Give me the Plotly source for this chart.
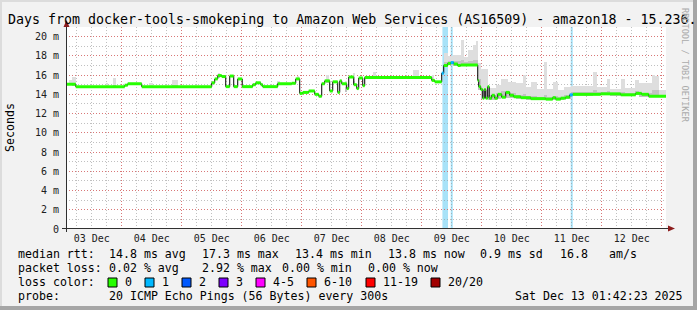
import plotly.graph_objects as go
import pandas as pd

# ---------------- data (times = hours since 2025-12-03 00:00) ----------------
T0 = pd.Timestamp("2025-12-03 00:00:00")
RANGE_H = [1.7064, 241.7064]          # Dec 3 01:42:23 -> Dec 13 01:42:23

# median RTT step breakpoints
med_h = [1.7, 5.6, 25.2, 26.4, 32.0, 60.0, 61.2, 62.4, 64.0, 65.6, 67.2, 68.8, 70.4,
         72.2, 76.4, 77.6, 79.6, 80.4, 86.4, 92.0, 93.6, 95.2, 96.4, 98.8, 101.2,
         102.8, 104.0, 105.2, 107.2, 108.4, 110.4, 111.2, 112.0, 114.0, 114.8, 116.8,
         118.0, 118.8, 120.4, 121.2, 148.0, 149.2, 152.0, 152.8, 154.4, 155.6, 156.8,
         158.4, 159.6, 166.4, 166.8, 167.6, 168.4, 169.0, 169.6, 170.4, 171.0, 172.0,
         173.2, 174.4, 176.0, 177.6, 179.2, 180.8, 183.6, 187.6, 193.6, 196.4, 197.6,
         199.6, 201.6, 203.2, 204.4, 215.6, 223.6, 229.6, 232.0, 234.8]
med_ms = [15.05, 14.8, 14.95, 15.1, 14.8, 15.2, 15.6, 15.95, 15.85, 14.8, 15.9, 14.8, 15.6,
          14.8, 15.0, 15.2, 15.0, 14.8, 15.1, 15.15, 15.6, 14.1, 14.2, 14.35, 14.0,
          13.8, 15.1, 15.4, 14.35, 15.3, 14.2, 15.4, 15.1, 14.6, 15.8, 15.0,
          14.6, 15.7, 14.9, 15.75, 15.45, 15.3, 16.2, 17.0, 17.2, 17.3, 17.15,
          17.0, 17.05, 15.45, 14.8, 14.5, 13.6, 14.5, 13.6, 14.8, 13.6, 13.9,
          13.6, 14.0, 13.7, 14.2, 13.9, 13.75, 13.65, 13.55, 13.5, 13.65, 13.5,
          13.6, 13.7, 13.95, 14.0, 14.05, 13.95, 14.1, 14.0, 13.8]
med_loss = [0] * len(med_ms)
med_loss[42] = 1   # Dec 9 08:00
med_loss[45] = 1   # Dec 9 11:36
med_loss[71] = 1   # Dec 11 11:12

# smoke (spread of the 20 pings): start, end, min, max, dense core top
smoke_start = [2.8, 4.0, 17.6, 20.4, 34.8, 44.0, 62.4, 86.0, 94.0, 105.6, 113.2, 116.4,
               124.4, 140.4, 148.0, 152.8, 154.4, 156.4, 159.6, 160.8, 162.4, 164.4,
               165.6, 166.4, 167.6, 170.4, 173.6, 175.6, 178.4, 181.6, 184.4, 185.6,
               187.6, 190.0, 192.8, 194.0, 196.4, 198.4, 200.8, 203.6, 212.4, 214.0,
               218.0, 219.2, 223.6, 225.2, 229.2, 230.8, 236.0, 237.2, 238.8]
smoke_end = [4.0, 5.6, 18.4, 21.6, 36.4, 46.4, 63.2, 87.2, 94.8, 106.8, 114.0, 117.2,
             125.6, 142.8, 148.8, 154.4, 156.4, 159.6, 160.8, 162.4, 164.4, 165.6,
             166.4, 167.6, 170.4, 173.6, 175.6, 178.4, 181.6, 184.4, 185.6, 187.6,
             190.0, 192.8, 194.0, 196.4, 198.4, 200.8, 203.6, 212.4, 214.0, 218.0,
             219.2, 223.6, 225.2, 229.2, 230.8, 236.0, 237.2, 238.8, 241.7]
smoke_lo = [15.0, 14.9, 14.75, 14.75, 14.75, 14.75, 15.8, 15.0, 15.5, 15.2, 14.2, 15.0,
            15.7, 15.7, 15.35, 16.8, 17.0, 16.9, 16.9, 16.9, 16.9, 16.9,
            16.9, 14.5, 13.5, 13.4, 13.5, 13.6, 13.6, 13.5, 13.5, 13.45,
            13.4, 13.4, 13.4, 13.4, 13.4, 13.45, 13.5, 13.85, 13.9, 13.9,
            13.9, 13.85, 13.85, 13.85, 13.9, 13.7, 13.7, 13.7, 13.7]
smoke_hi = [15.45, 15.8, 15.2, 15.65, 15.15, 15.5, 16.25, 15.35, 15.9, 16.0, 15.4, 16.25,
            16.3, 16.5, 16.0, 18.3, 18.0, 18.1, 19.6, 17.9, 18.6, 19.1,
            19.5, 17.3, 16.6, 14.7, 15.0, 15.6, 15.3, 15.2, 16.0, 14.8,
            15.3, 14.6, 17.4, 14.6, 15.3, 14.4, 14.8, 14.9, 16.3, 14.8,
            15.6, 14.6, 15.6, 14.7, 15.5, 15.2, 16.0, 15.9, 14.5]
smoke_core = [15.2, 15.2, 14.9, 14.95, 14.9, 14.95, 16.0, 15.15, 15.65, 15.5, 14.8, 15.4,
              15.9, 15.95, 15.6, 17.4, 17.5, 17.5, 17.6, 17.4, 17.5, 17.6,
              17.6, 15.6, 14.4, 13.9, 14.1, 14.3, 14.1, 13.9, 14.0, 13.8,
              13.8, 13.7, 13.9, 13.7, 13.8, 13.7, 13.9, 14.2, 14.4, 14.2,
              14.3, 14.15, 14.25, 14.15, 14.3, 14.1, 14.5, 14.4, 13.95]

# packet-loss periods (lost pings of 20)
loss_start = [152.28, 155.6, 203.6]
loss_end = [154.52, 156.4, 204.4]
loss_n = [1, 1, 1]

day_grid = ["2025-12-04", "2025-12-05", "2025-12-06", "2025-12-07", "2025-12-08",
            "2025-12-09", "2025-12-10", "2025-12-11", "2025-12-12", "2025-12-13"]
day_label_pos = ["2025-12-03 12:00", "2025-12-04 12:00", "2025-12-05 12:00",
                 "2025-12-06 12:00", "2025-12-07 12:00", "2025-12-08 12:00",
                 "2025-12-09 12:00", "2025-12-10 12:00", "2025-12-11 12:00",
                 "2025-12-12 12:00"]
day_labels = ["03 Dec", "04 Dec", "05 Dec", "06 Dec", "07 Dec", "08 Dec", "09 Dec",
              "10 Dec", "11 Dec", "12 Dec"]
y_ticks = [0, 2, 4, 6, 8, 10, 12, 14, 16, 18, 20]
y_labels = ["0", "2 m", "4 m", "6 m", "8 m", "10 m", "12 m", "14 m", "16 m", "18 m", "20 m"]

loss_names = ["0", "1", "2", "3", "4-5", "6-10", "11-19", "20/20"]
loss_colors = ["#26ff00", "#00b8ff", "#0059ff", "#7e00ff", "#ff00ff", "#ff5500",
               "#ff0000", "#a10000"]
loss_bg = {1: "#a8e2f8"}

title = ("Days from docker-tools-smokeping to Amazon Web Services (AS16509) - "
         "amazon18 - 15.236.")
rtt_stats = [("median rtt:", 16), ("14.8 ms avg", 107), ("17.3 ms max", 200),
             ("13.4 ms min", 293), ("13.8 ms now", 386), ("0.9 ms sd", 478),
             ("16.8", 558), ("am/s", 607)]
loss_stats = [("packet loss:", 16), ("0.02 % avg", 107), ("2.92 % max", 200),
              ("0.00 % min", 280), ("0.00 % now", 366)]
probe_txt = [("probe:", 16), ("20 ICMP Echo Pings (56 Bytes) every 300s", 107),
             ("Sat Dec 13 01:42:23 2025", 513)]

# ---------------- helpers ----------------
def t(h):
    return T0 + pd.Timedelta(hours=h)

W, H = 697, 310
ML, MR, MT, MB = 66, 31, 27, 81
PW, PH = W - ML - MR, H - MT - MB

def px(x):
    return (x - ML) / PW

def py(y):
    return (H - MB - y) / PH

MONO = "DejaVu Sans Mono"
fig = go.Figure()

# smoke
mids = [t((a + b) / 2) for a, b in zip(smoke_start, smoke_end)]
widths = [(b - a) * 3600 * 1000 for a, b in zip(smoke_start, smoke_end)]
fig.add_trace(go.Bar(x=mids, base=smoke_lo, y=[h - l for h, l in zip(smoke_hi, smoke_lo)],
                     width=widths, marker=dict(color="#dedede", line_width=0),
                     showlegend=False, hoverinfo="skip"))
fig.add_trace(go.Bar(x=mids, base=smoke_lo, y=[c - l for c, l in zip(smoke_core, smoke_lo)],
                     width=widths, marker=dict(color="#c2c2c2", line_width=0),
                     showlegend=False, hoverinfo="skip"))

# median: thin black step, then loss-coloured horizontal segments
xs = [t(h) for h in med_h] + [t(RANGE_H[1])]
ys = med_ms + [med_ms[-1]]
fig.add_trace(go.Scatter(x=xs, y=ys, mode="lines", line=dict(color="#000000", width=1, shape="hv"),
                         showlegend=False, hoverinfo="skip"))
for lvl in sorted(set(med_loss)):
    sx, sy = [], []
    for i, v in enumerate(med_ms):
        if med_loss[i] != lvl:
            continue
        sx += [xs[i], xs[i + 1], None]
        sy += [v, v, None]
    fig.add_trace(go.Scatter(x=sx, y=sy, mode="lines",
                             line=dict(color=loss_colors[lvl], width=3),
                             showlegend=False, hoverinfo="skip"))

# dummy trace for label axis
fig.add_trace(go.Scatter(x=[t(RANGE_H[0])], y=[None], xaxis="x2", showlegend=False,
                         hoverinfo="skip"))

shapes = []
for a, b, n in zip(loss_start, loss_end, loss_n):
    shapes.append(dict(type="rect", xref="x", yref="paper", x0=t(a), x1=t(b), y0=0, y1=1,
                       fillcolor=loss_bg[n], line_width=0, layer="between"))

AX = "#303030"
ARW = "#8c1c1c"
shapes += [
    dict(type="line", xref="paper", yref="paper", x0=px(66.5), x1=px(66.5), y0=py(232), y1=py(24),
         line=dict(color=AX, width=1)),
    dict(type="line", xref="paper", yref="paper", x0=px(62), x1=px(669), y0=py(228.5), y1=py(228.5),
         line=dict(color=AX, width=1)),
    dict(type="path", xref="paper", yref="paper",
         path=f"M {px(63.5)} {py(27)} L {px(69.5)} {py(27)} L {px(66.5)} {py(20)} Z",
         fillcolor=ARW, line=dict(color=ARW, width=0)),
    dict(type="path", xref="paper", yref="paper",
         path=f"M {px(668)} {py(225.5)} L {px(668)} {py(231.5)} L {px(675)} {py(228.5)} Z",
         fillcolor=ARW, line=dict(color=ARW, width=0)),
    # frame
    dict(type="rect", xref="paper", yref="paper", x0=px(0), x1=px(697), y0=py(0), y1=py(2),
         fillcolor="#dcdcdc", line_width=0),
    dict(type="rect", xref="paper", yref="paper", x0=px(0), x1=px(2), y0=py(0), y1=py(310),
         fillcolor="#dcdcdc", line_width=0),
    dict(type="rect", xref="paper", yref="paper", x0=px(693), x1=px(697), y0=py(0), y1=py(310),
         fillcolor="#a6a6a6", line_width=0),
    dict(type="rect", xref="paper", yref="paper", x0=px(0), x1=px(697), y0=py(306), y1=py(310),
         fillcolor="#a6a6a6", line_width=0),
]

annotations = []
def txt(s, x, y, size=11.6, color="#000000", anchor="left", angle=0, family=MONO):
    annotations.append(dict(text=s, x=px(x), y=py(y), xref="paper", yref="paper",
                            xanchor=anchor, yanchor="middle", showarrow=False,
                            textangle=angle, font=dict(family=family, size=size, color=color)))

for s, x in rtt_stats:
    txt(s, x, 254)
for s, x in loss_stats:
    txt(s, x, 268)
txt("loss color:", 16, 282)
sq_x = [108, 145, 182, 219, 256, 307, 366, 431]
for name, col, x in zip(loss_names, loss_colors, sq_x):
    shapes.append(dict(type="rect", xref="paper", yref="paper", x0=px(x), x1=px(x + 9),
                       y0=py(278), y1=py(287), fillcolor=col, line=dict(color="#000", width=1)))
    txt(name, x + 15, 282)
for s, x in probe_txt:
    txt(s, x, 296)
txt("Seconds", 10, 128, angle=-90, anchor="center")
txt("RRDTOOL / TOBI OETIKER", 685, 65, size=8.6, color="#aaaaaa", anchor="center", angle=90)

MAJ = "rgba(225,95,95,0.75)"
MIN = "rgba(150,150,150,0.6)"
DOT = "1px,2px"

fig.update_layout(
    width=W, height=H, margin=dict(l=ML, r=MR, t=MT, b=MB),
    paper_bgcolor="#f2f2f2", plot_bgcolor="#ffffff",
    barmode="overlay", bargap=0,
    title=dict(text=title, x=8 / W, xref="container", xanchor="left",
               y=1 - 19 / H, yref="container", yanchor="middle",
               font=dict(family=MONO, size=13.3, color="#000000")),
    xaxis=dict(type="date", range=[t(RANGE_H[0]), t(RANGE_H[1])],
               tickmode="array", tickvals=day_grid, showticklabels=False, ticks="",
               showgrid=True, gridcolor=MAJ, griddash=DOT, gridwidth=1, zeroline=False,
               showline=False,
               minor=dict(dtick=6 * 3600 * 1000, tick0="2025-12-03", showgrid=True,
                          gridcolor=MIN, griddash=DOT, gridwidth=1, ticks="")),
    xaxis2=dict(type="date", overlaying="x", matches="x", anchor="y", side="bottom",
                range=[t(RANGE_H[0]), t(RANGE_H[1])],
                tickmode="array", tickvals=day_label_pos, ticktext=day_labels,
                showgrid=False, ticks="", zeroline=False, showline=False,
                ticklabelstandoff=2,
                tickfont=dict(family=MONO, size=10, color="#202020")),
    yaxis=dict(range=[0, 21], tickmode="array", tickvals=y_ticks, ticktext=y_labels,
               showgrid=True, gridcolor=MAJ, griddash=DOT, gridwidth=1, zeroline=False,
               showline=False, ticks="", ticklabelstandoff=6,
               tickfont=dict(family=MONO, size=10, color="#202020"),
               minor=dict(dtick=1, tick0=0, showgrid=True, gridcolor=MIN, griddash=DOT,
                          gridwidth=1, ticks="")),
    shapes=shapes, annotations=annotations, showlegend=False,
)

fig.write_html("out.html")
